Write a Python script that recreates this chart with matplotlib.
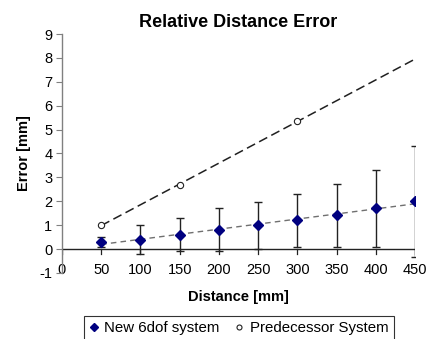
import matplotlib
matplotlib.use("Agg")
import matplotlib.pyplot as plt
import numpy as np

plt.rcParams['font.family'] = ['Liberation Sans', 'DejaVu Sans']
plt.rcParams['axes.unicode_minus'] = False

distance = [50, 100, 150, 200, 250, 300, 350, 400, 450]
new_err = [0.3, 0.4, 0.6, 0.8, 1.0, 1.2, 1.42, 1.7, 2.0]
new_sd = [0.2, 0.6, 0.7, 0.9, 0.98, 1.1, 1.32, 1.63, 2.33]
pred_dist = [50, 150, 300]
pred_err = [1.0, 2.7, 5.35]
xticks = [0, 50, 100, 150, 200, 250, 300, 350, 400, 450]
yticks = [-1, 0, 1, 2, 3, 4, 5, 6, 7, 8, 9]

fig = plt.figure(figsize=(4.26, 3.39), dpi=100)
ax = fig.add_axes([0.1455, 0.1947, 0.829, 0.705])

# trend lines
p_new = np.polyfit(distance, new_err, 1)
p_pred = np.polyfit(pred_dist, pred_err, 1)
xt = np.array([distance[0], distance[-1]])
ax.plot(xt, np.polyval(p_new, xt), ls=(0, (4, 3)), color='#707070', lw=1.0, zorder=2)
ax.plot(xt, np.polyval(p_pred, xt), ls=(0, (6, 3)), color='#202020', lw=1.1, zorder=2)

ax.errorbar(distance, new_err, yerr=new_sd, fmt='none', ecolor='#222222',
            elinewidth=1.0, capsize=3, capthick=1.0, zorder=3)
ax.plot(distance, new_err, 'D', color='#000080', ms=5, ls='none', zorder=4,
        label='New 6dof system')
ax.plot(pred_dist, pred_err, 'o', mfc='white', mec='#222222', mew=0.8, ms=4.5,
        ls='none', zorder=4, label='Predecessor System')

ax.set_xlim(0, 450)
ax.set_ylim(-1, 9)
ax.set_yticks(yticks)
ax.set_xticks(xticks)
ax.tick_params(axis='both', labelsize=10.5, colors='black')
ax.tick_params(axis='y', length=4, width=0.8, color='#808080', pad=3)
ax.tick_params(axis='x', length=0, pad=-7.5)

for s in ['top', 'right', 'bottom']:
    ax.spines[s].set_visible(False)
ax.spines['left'].set_color('#808080')
ax.spines['left'].set_linewidth(1.0)

# horizontal axis line at y=0 with ticks
ax.axhline(0, color='#222222', lw=1.0, zorder=1)
for xv in xticks:
    ax.plot([xv, xv], [0, -0.2], color='#222222', lw=0.9, zorder=1)

ax.set_title('Relative Distance Error', fontsize=13, fontweight='bold', pad=5)
ax.set_xlabel('Distance [mm]', fontsize=10.5, fontweight='bold')
ax.xaxis.set_label_coords(0.5, -0.07)
ax.set_ylabel('Error [mm]', fontsize=10.5, fontweight='bold', labelpad=6)

leg = fig.legend(loc='upper center', bbox_to_anchor=(0.561, 1 - 316 / 339), ncol=2,
                 fontsize=10.8, frameon=True, fancybox=False, edgecolor='black',
                 handlelength=0.6, handletextpad=0.4, columnspacing=1.0,
                 borderpad=0.35, markerscale=0.8, borderaxespad=0)
leg.get_frame().set_linewidth(0.8)

fig.savefig('out.png', dpi=100)
